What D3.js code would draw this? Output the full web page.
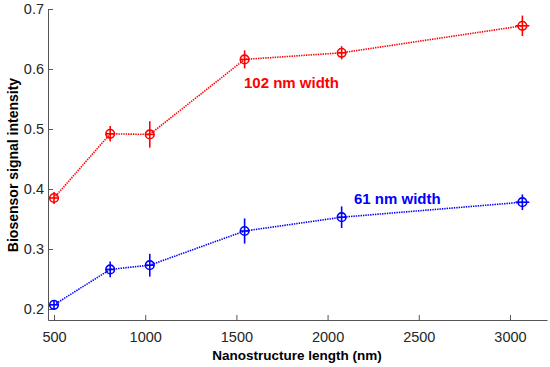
<!DOCTYPE html>
<html>
<head>
<meta charset="utf-8">
<script src="https://cdn.jsdelivr.net/npm/d3@7"></script>
<style>
  body { margin: 0; background: #fff; }
  svg { font-family: "Liberation Sans", Arial, sans-serif; }
</style>
</head>
<body>
<script>
// Nanostructure lengths (nm)
const lengths = [500, 808, 1025, 1545, 2077, 3068];

// 102 nm width series
const red = [0.385, 0.492, 0.491, 0.616, 0.627, 0.672];
const redErr = [0.010, 0.013, 0.022, 0.015, 0.011, 0.017];
const redXErr = [25, 25, 25, 25, 25, 38];

// 61 nm width series
const blue = [0.207, 0.266, 0.273, 0.330, 0.353, 0.378];
const blueErr = [0.008, 0.013, 0.019, 0.021, 0.018, 0.013];
const blueXErr = [25, 25, 25, 25, 25, 38];

const xTicks = [500, 1000, 1500, 2000, 2500, 3000];
const yTicks = [0.2, 0.3, 0.4, 0.5, 0.6, 0.7];

const width = 550, height = 367;
const svg = d3.select("body").append("svg")
    .attr("width", width)
    .attr("height", height);

let xScale = d3.scaleLinear().domain([467, 3203]).range([48, 547]);
let yScale = d3.scaleLinear().domain([0.1817, 0.7]).range([320, 9]);

const axisColor = "#555";
const textColor = "#262626";

// x axis
let gx = svg.append("g")
    .attr("transform", `translate(0,${yScale.range()[0]})`)
    .call(d3.axisBottom(xScale).tickValues(xTicks).tickFormat(d3.format("d"))
        .tickSizeInner(-5).tickSizeOuter(0).tickPadding(12));

// y axis
let gy = svg.append("g")
    .attr("transform", `translate(${xScale.range()[0]},0)`)
    .call(d3.axisLeft(yScale).tickValues(yTicks).tickFormat(d3.format(".1f"))
        .tickSizeInner(-5).tickSizeOuter(0).tickPadding(4));

[gx, gy].forEach(g => {
    g.select(".domain").attr("stroke", axisColor).attr("stroke-width", 1);
    g.selectAll(".tick line").attr("stroke", axisColor);
    g.selectAll(".tick text").attr("fill", textColor).style("font-size", "14.5px");
});

svg.append("text")
    .attr("x", 297).attr("y", 360)
    .attr("text-anchor", "middle")
    .attr("fill", "#000")
    .style("font-size", "13.5px").style("font-weight", "bold")
    .text("Nanostructure length (nm)");

svg.append("text")
    .attr("transform", `translate(18,165) rotate(-90)`)
    .attr("text-anchor", "middle")
    .attr("fill", "#000")
    .style("font-size", "14px").style("font-weight", "bold")
    .text("Biosensor signal intensity");

function drawSeries(values, errs, xErrs, color) {
    let data = lengths.map((x, i) => ({ x: x, y: values[i], e: errs[i], xe: xErrs[i] }));
    let line = d3.line().x(d => xScale(d.x)).y(d => yScale(d.y));

    svg.append("path")
        .datum(data)
        .attr("d", line)
        .attr("fill", "none")
        .attr("stroke", color)
        .attr("stroke-width", 1.6)
        .attr("stroke-dasharray", "1.4,1");

    let g = svg.append("g").selectAll("g").data(data).join("g");

    g.append("line")
        .attr("x1", d => xScale(d.x)).attr("x2", d => xScale(d.x))
        .attr("y1", d => yScale(d.y - d.e)).attr("y2", d => yScale(d.y + d.e))
        .attr("stroke", color).attr("stroke-width", 1.6);

    g.append("line")
        .attr("x1", d => xScale(d.x - d.xe)).attr("x2", d => xScale(d.x + d.xe))
        .attr("y1", d => yScale(d.y)).attr("y2", d => yScale(d.y))
        .attr("stroke", color).attr("stroke-width", 1.6);

    g.append("circle")
        .attr("cx", d => xScale(d.x)).attr("cy", d => yScale(d.y))
        .attr("r", 4.3)
        .attr("fill", "none")
        .attr("stroke", color).attr("stroke-width", 1.6);
}

drawSeries(red, redErr, redXErr, "#ff0000");
drawSeries(blue, blueErr, blueXErr, "#0000ff");

svg.append("text")
    .attr("x", 244).attr("y", 88)
    .attr("fill", "#ff0000")
    .style("font-size", "15px").style("font-weight", "bold")
    .text("102 nm width");

svg.append("text")
    .attr("x", 354).attr("y", 204)
    .attr("fill", "#0000ff")
    .style("font-size", "15px").style("font-weight", "bold")
    .text("61 nm width");
</script>
</body>
</html>
